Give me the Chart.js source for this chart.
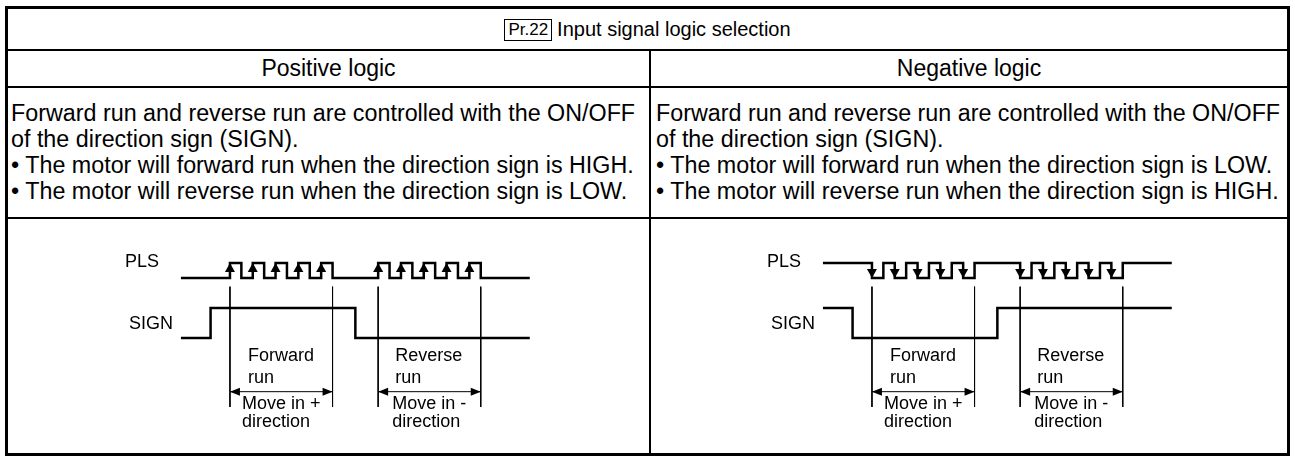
<!DOCTYPE html>
<html>
<head>
<meta charset="utf-8">
<script src="https://cdn.jsdelivr.net/npm/chart.js@4.4.1/dist/chart.umd.min.js"></script>
<style>
body { margin: 0; width: 1295px; height: 456px; background: #fff; position: relative; overflow: hidden;
       font-family: "Liberation Sans", Arial, sans-serif; color: #000; }
.frame { position: absolute; left: 5px; top: 6px; width: 1285px; height: 450px; border: 3px solid #000; box-sizing: border-box; }
.hline { position: absolute; left: 5px; width: 1285px; height: 2px; background: #000; }
.vline { position: absolute; left: 649px; top: 50px; width: 2px; height: 405px; background: #000; }
.title { position: absolute; left: 8px; top: 9px; width: 1279px; height: 41px; display: flex; align-items: center; justify-content: center; font-size: 20px; }
.pr { border: 1.5px solid #000; font-size: 17px; padding: 0 3px; line-height: 20px; margin-right: 5px; }
.head { position: absolute; top: 51px; height: 35px; line-height: 35px; text-align: center; font-size: 23px; }
.desc { position: absolute; top: 100px; font-size: 23.3px; line-height: 26px; white-space: nowrap; }
canvas { position: absolute; }
</style>
</head>
<body>
<div class="frame"></div>
<div class="title"><span class="pr">Pr.22</span><span>Input signal logic selection</span></div>
<div class="hline" style="top:49px;height:1.5px"></div>
<div class="head" style="left:8px;width:641px">Positive logic</div>
<div class="head" style="left:651px;width:636px">Negative logic</div>
<div class="hline" style="top:86px"></div>
<div class="desc" id="descPos" style="left:11px"></div>
<div class="desc" id="descNeg" style="left:656px"></div>
<div class="hline" style="top:217px"></div>
<div class="vline"></div>
<canvas id="chartPos" width="636" height="233" style="left:8px;top:219px"></canvas>
<canvas id="chartNeg" width="636" height="233" style="left:650px;top:219px"></canvas>

<script>
// Textos de la tabla
const descPos = [
    'Forward run and reverse run are controlled with the ON/OFF',
    'of the direction sign (SIGN).',
    '• The motor will forward run when the direction sign is HIGH.',
    '• The motor will reverse run when the direction sign is LOW.'
];
const descNeg = [
    'Forward run and reverse run are controlled with the ON/OFF',
    'of the direction sign (SIGN).',
    '• The motor will forward run when the direction sign is LOW.',
    '• The motor will reverse run when the direction sign is HIGH.'
];

// Tiempos del diagrama (unidad = medio periodo de pulso)
const pulseStarts = [0, 2, 4, 6, 8, 13, 15, 17, 19, 21];
const pulseWidth = 1;
const traceStart = -4.3;
const traceEnd = 26.3;
const signEdges = [-1.7, 11];
const runRanges = [[0, 9], [13, 22]];

// Niveles
const plsHigh = 4, plsLow = 3;
const signHigh = 1, signLow = -1;
const markTop = 2.42, markBottom = -5.6;
const runArrowY = -4.58;

const runLabels = [
    { range: 0, dx: 18, y: -2.2, text: 'Forward' },
    { range: 0, dx: 18, y: -3.67, text: 'run' },
    { range: 0, dx: 12, y: -5.4, text: 'Move in +' },
    { range: 0, dx: 12, y: -6.58, text: 'direction' },
    { range: 1, dx: 17, y: -2.2, text: 'Reverse' },
    { range: 1, dx: 17, y: -3.67, text: 'run' },
    { range: 1, dx: 14, y: -5.4, text: 'Move in -' },
    { range: 1, dx: 14, y: -6.58, text: 'direction' }
];

descPos.forEach(t => { const d = document.createElement('div'); d.textContent = t; document.getElementById('descPos').appendChild(d); });
descNeg.forEach(t => { const d = document.createElement('div'); d.textContent = t; document.getElementById('descNeg').appendChild(d); });

function plsPoints(base, top) {
    const pts = [{ x: traceStart, y: base }];
    pulseStarts.forEach(p => {
        pts.push({ x: p, y: base }, { x: p, y: top }, { x: p + pulseWidth, y: top }, { x: p + pulseWidth, y: base });
    });
    pts.push({ x: traceEnd, y: base });
    return pts;
}

function signPoints(idle, active) {
    return [
        { x: traceStart, y: idle }, { x: signEdges[0], y: idle }, { x: signEdges[0], y: active },
        { x: signEdges[1], y: active }, { x: signEdges[1], y: idle }, { x: traceEnd, y: idle }
    ];
}

function markPoints() {
    const pts = [];
    runRanges.forEach(r => r.forEach(t => pts.push({ x: t, y: markTop }, { x: t, y: markBottom }, { x: t, y: null })));
    return pts;
}

function runPoints() {
    const pts = [];
    runRanges.forEach(r => pts.push({ x: r[0], y: runArrowY }, { x: r[1], y: runArrowY }, { x: r[1], y: null }));
    return pts;
}

const fontDiag = '18px "Liberation Sans", Arial, sans-serif';

// Flechas y textos del diagrama
const decor = {
    id: 'decor',
    afterDatasetsDraw(chart, args, opts) {
        const { ctx, scales: { x, y } } = chart;
        ctx.save();
        ctx.fillStyle = '#000';
        // flechas en los flancos de PLS
        const tip = y.getPixelForValue(opts.arrowLevel);
        pulseStarts.forEach(t => {
            const px = x.getPixelForValue(t);
            ctx.beginPath();
            ctx.moveTo(px, tip);
            ctx.lineTo(px - 5, tip - opts.arrowDir * 9);
            ctx.lineTo(px + 5, tip - opts.arrowDir * 9);
            ctx.closePath();
            ctx.fill();
        });
        // puntas de las flechas dobles
        const ay = y.getPixelForValue(runArrowY);
        runRanges.forEach(r => {
            const a = x.getPixelForValue(r[0]), b = x.getPixelForValue(r[1]);
            ctx.beginPath();
            ctx.moveTo(a, ay); ctx.lineTo(a + 10, ay - 4); ctx.lineTo(a + 10, ay + 4);
            ctx.closePath(); ctx.fill();
            ctx.beginPath();
            ctx.moveTo(b, ay); ctx.lineTo(b - 10, ay - 4); ctx.lineTo(b - 10, ay + 4);
            ctx.closePath(); ctx.fill();
        });
        ctx.font = fontDiag;
        ctx.textBaseline = 'middle';
        ctx.textAlign = 'left';
        runLabels.forEach(l => {
            ctx.fillText(l.text, x.getPixelForValue(runRanges[l.range][0]) + l.dx, y.getPixelForValue(l.y));
        });
        ctx.textAlign = 'right';
        const x0 = x.getPixelForValue(traceStart);
        ctx.fillText('PLS', x0 - 22, y.getPixelForValue(plsHigh) - 1);
        ctx.fillText('SIGN', x0 - 8, y.getPixelForValue(0) + 1);
        ctx.restore();
    }
};

function makeChart(id, plsBase, plsTop, signIdle, signActive, arrowLevel, arrowDir) {
    return new Chart(document.getElementById(id), {
        type: 'scatter',
        data: {
            datasets: [
                { data: plsPoints(plsBase, plsTop), borderWidth: 2.5 },
                { data: signPoints(signIdle, signActive), borderWidth: 2.5 },
                { data: markPoints(), borderWidth: 1 },
                { data: runPoints(), borderWidth: 1 }
            ]
        },
        options: {
            responsive: false,
            animation: false,
            devicePixelRatio: 1,
            showLine: true,
            spanGaps: false,
            layout: { padding: 0 },
            elements: {
                point: { radius: 0, hoverRadius: 0 },
                line: { borderColor: '#000', tension: 0, borderCapStyle: 'butt', borderJoinStyle: 'miter' }
            },
            scales: {
                x: { type: 'linear', display: false, min: -19.47, max: 36.32 },
                y: { type: 'linear', display: false, min: -8.6, max: 6.93 }
            },
            plugins: {
                legend: { display: false },
                tooltip: { enabled: false },
                decor: { arrowLevel: arrowLevel, arrowDir: arrowDir }
            }
        },
        plugins: [decor]
    });
}

makeChart('chartPos', plsLow, plsHigh, signLow, signHigh, plsHigh, -1);
makeChart('chartNeg', plsHigh, plsLow, signHigh, signLow, plsLow, 1);
</script>
</body>
</html>
